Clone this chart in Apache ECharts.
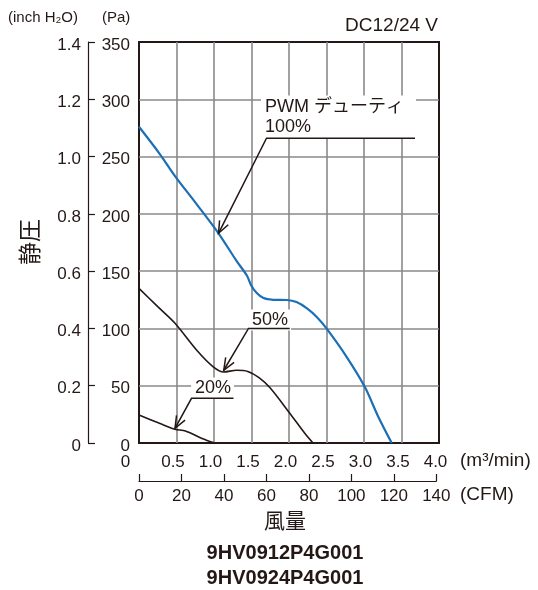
<!DOCTYPE html>
<html><head><meta charset="utf-8">
<script src="https://cdn.jsdelivr.net/npm/echarts@6/dist/echarts.min.js"></script>
<style>html,body{margin:0;padding:0;background:#fff}#c{width:538px;height:590px}</style>
</head><body><div id="c"></div>
<script>
// ---- data ----
const flowTicksM3 = ['0','0.5','1.0','1.5','2.0','2.5','3.0','3.5','4.0'];
const flowTicksCFM = ['0','20','40','60','80','100','120','140'];
const pressTicksPa = ['0','50','100','150','200','250','300','350'];
const pressTicksInch = ['0','0.2','0.4','0.6','0.8','1.0','1.2','1.4'];
// [flow m3/min, static pressure Pa]
const duty100 = [[0,276],[0.28,252],[0.48,233],[0.75,210],[1.06,183],[1.3,159],[1.44,146],[1.5,137],[1.57,131],[1.66,126.5],[1.79,125],[1.97,124.8],[2.1,123],[2.24,117.5],[2.37,110],[2.5,100],[2.77,75],[3.01,49],[3.19,23],[3.37,0]];
const duty50 = [[0,135],[0.25,119],[0.48,104.5],[0.77,81],[0.99,66.5],[1.13,62],[1.3,63.5],[1.45,62.5],[1.6,57],[1.75,48],[2.01,26],[2.21,8.5],[2.32,0]];
const duty20 = [[0,24.5],[0.28,17],[0.48,12],[0.62,10.5],[0.84,4],[1.01,0]];
const noteTexts = ['PWM デューティ\n100%', '50%', '20%'];
// annotation anchors in data units: text left-middle, leader end, bend, arrow tip
const noteText = [[1.68,284.5],[1.507,107.4],[0.747,48]];
const noteLeadEnd = [[3.68,266],[2.01,100],[1.26,39]];
const noteBend = [[1.70,266],[1.46,100],[0.70,39]];
const noteTip = [[1.06,183],[1.13,63.5],[0.48,12.8]];

const FONT = "'Liberation Sans', Arial, 'Noto Sans CJK JP', sans-serif";
const INK = '#231815';
const GRID = '#8a8a8a';

const chart = echarts.init(document.getElementById('c'), null, {renderer:'canvas'});
const yRich = {p:{fontFamily:FONT, fontSize:17, color:INK, padding:[6,0,0,0]}};

const option = {
  animation: false,
  backgroundColor: '#fff',
  grid: [
    {left:139, top:42, width:300, height:401, show:true, borderColor:INK, borderWidth:2, backgroundColor:'transparent', containLabel:false, outerBoundsMode:'none'},
    {left:139, top:42, width:300*140/141.26, height:401, show:false, containLabel:false, outerBoundsMode:'none'}
  ],
  xAxis: [
    {gridIndex:0, type:'value', min:0, max:4, interval:0.5,
     axisLine:{show:false}, axisTick:{show:false},
     splitLine:{show:true, showMinLine:false, showMaxLine:false, lineStyle:{color:GRID, width:1.6}},
     axisLabel:{margin:11, color:INK, fontFamily:FONT, fontSize:17,
       formatter:(v)=>{const i=Math.round(v/0.5); return i===0?'{z|'+flowTicksM3[i]+'}':'{a|'+flowTicksM3[i]+'}';},
       rich:{a:{fontFamily:FONT,fontSize:17,color:INK,padding:[0,7,0,0]}, z:{fontFamily:FONT,fontSize:17,color:INK,padding:[0,27,0,0]}}}},
    {gridIndex:1, type:'value', min:0, max:140, interval:20, position:'bottom', offset:38,
     axisLine:{show:true, onZero:false, lineStyle:{color:INK, width:1.2}},
     axisTick:{show:true, inside:true, length:7, lineStyle:{color:INK, width:1.2}},
     splitLine:{show:false},
     axisLabel:{margin:7, color:INK, fontFamily:FONT, fontSize:17,
       formatter:(v)=>flowTicksCFM[Math.round(v/20)]}}
  ],
  yAxis: [
    {gridIndex:0, type:'value', min:0, max:350, interval:50,
     axisLine:{show:false}, axisTick:{show:false},
     splitLine:{show:true, showMinLine:false, showMaxLine:false, lineStyle:{color:GRID, width:1.6}},
     axisLabel:{margin:9, color:INK, fontFamily:FONT, fontSize:17, rich:yRich,
       formatter:(v)=>'{p|'+pressTicksPa[Math.round(v/50)]+'}'}},
    {gridIndex:0, type:'value', min:0, max:1.4, interval:0.2, position:'left', offset:51,
     axisLine:{show:true, onZero:false, lineStyle:{color:INK, width:1.2}},
     axisTick:{show:true, inside:true, length:7, lineStyle:{color:INK, width:1.2}},
     splitLine:{show:false},
     axisLabel:{margin:7, color:INK, fontFamily:FONT, fontSize:17, rich:yRich,
       formatter:(v)=>'{p|'+pressTicksInch[Math.round(v/0.2)]+'}'}},
    {gridIndex:1, type:'value', min:0, max:350, show:false}
  ],
  series: [
    {type:'line', xAxisIndex:0, yAxisIndex:0, data:duty100, smooth:0.3,
     symbol:'none', lineStyle:{color:'#1b6fb6', width:2.2}, z:5},
    {type:'line', xAxisIndex:0, yAxisIndex:0, data:duty50, smooth:0.3,
     symbol:'none', lineStyle:{color:INK, width:1.6}, z:5},
    {type:'line', xAxisIndex:0, yAxisIndex:0, data:duty20, smooth:0.3,
     symbol:'none', lineStyle:{color:INK, width:1.6}, z:5}
  ]
};
chart.setOption(option);

const px = (p)=>chart.convertToPixel({seriesIndex:0}, p);
const graphics = [];
function txt(text, x, y, opts){
  graphics.push(Object.assign({type:'text', x:x, y:y, z:20, silent:true,
    style:Object.assign({text:text, fill:INK, font:'16px '+FONT, align:'left', verticalAlign:'middle'}, opts||{})}));
}
txt('(inch H₂O)', 8, 18, {font:'15px '+FONT});
txt('(Pa)', 102, 18, {font:'15px '+FONT});
txt('DC12/24 V', 438, 26, {font:'19px '+FONT, align:'right'});
txt('(m³/min)', 460, 461, {font:'19px '+FONT});
txt('(CFM)', 460, 495, {font:'19px '+FONT});
txt('風量', 285, 522, {font:'21px '+FONT, align:'center'});
txt('9HV0912P4G001', 285, 553, {font:'bold 20px '+FONT, align:'center'});
txt('9HV0924P4G001', 285, 578, {font:'bold 20px '+FONT, align:'center'});
graphics.push({type:'text', x:32, y:242, rotation:Math.PI/2, z:20, silent:true,
  style:{text:'静圧', fill:INK, font:'23px '+FONT, align:'center', verticalAlign:'middle'}});

for (let i=0;i<noteTexts.length;i++){
  const t = px(noteText[i]);
  const multi = noteTexts[i].indexOf('\n')>=0;
  graphics.push({type:'text', x:t[0]-4, y:t[1], z:30, silent:true,
    style:{text:noteTexts[i], fill:INK, font:'18px '+FONT, align:'left', verticalAlign:'middle',
      lineHeight:20, backgroundColor:'#fff', padding: multi?[2,12,1,4]:[1,3,0,4]}});
  const a = px(noteLeadEnd[i]), b = px(noteBend[i]), c = px(noteTip[i]);
  graphics.push({type:'polyline', z:31, silent:true, shape:{points:[a,b,c]},
    style:{stroke:INK, lineWidth:1.5, fill:null}});
  const dx=c[0]-b[0], dy=c[1]-b[1], len=Math.hypot(dx,dy);
  const ux=dx/len, uy=dy/len, L=13, th=22*Math.PI/180;
  const leg=(s)=>{const cs=Math.cos(s*th), sn=Math.sin(s*th);
    const rx=ux*cs-uy*sn, ry=ux*sn+uy*cs; return [c[0]-L*rx, c[1]-L*ry];};
  graphics.push({type:'polyline', z:31, silent:true, shape:{points:[leg(1), c, leg(-1)]},
    style:{stroke:INK, lineWidth:1.5, fill:null}});
}
chart.setOption({graphic: graphics});
</script>
</body></html>
